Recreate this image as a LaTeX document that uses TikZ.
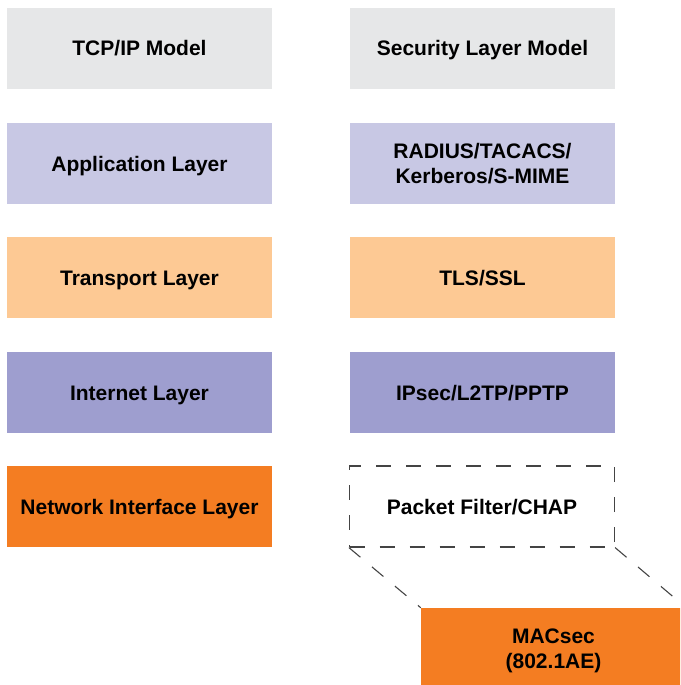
\documentclass[tikz,border=0pt]{standalone}
\usepackage{fontspec}
\setmainfont{Liberation Sans}
\definecolor{cgray}{HTML}{E6E7E8}
\definecolor{clav}{HTML}{C8C8E4}
\definecolor{cpeach}{HTML}{FDC994}
\definecolor{cpurple}{HTML}{9E9ECF}
\definecolor{corange}{HTML}{F47D22}
\definecolor{cdash}{HTML}{444444}
\begin{document}
\begin{tikzpicture}[x=1pt,y=-1pt,
  layerbox/.style={rectangle, minimum width=265pt, minimum height=81pt, inner sep=0pt,
    font=\fontsize{21}{25}\selectfont\bfseries, align=center, text=black,
    text height=15pt, text depth=0pt},
  twoline/.style={text height=40pt, text depth=0pt},
  dashbox/.style={layerbox, draw=cdash, line width=1.2pt, dash pattern=on 15pt off 15pt},
  dashlink/.style={draw=cdash, line width=1.1pt, dash pattern=on 15pt off 15pt}]
\useasboundingbox (0,0) rectangle (680,685);
\clip (0,0) rectangle (680,685);
\node[layerbox, fill=cgray] (tcp) at (139.5,48.5) {TCP/IP Model};
\node[layerbox, fill=clav] (app) at (139.5,163.5) {Application Layer};
\node[layerbox, fill=cpeach] (trans) at (139.5,277.5) {Transport Layer};
\node[layerbox, fill=cpurple] (inet) at (139.5,392.5) {Internet Layer};
\node[layerbox, fill=corange] (nil) at (139.5,506.5) {Network Interface Layer};
\node[layerbox, fill=cgray] (sec) at (482.5,48.5) {Security Layer Model};
\node[layerbox, twoline, fill=clav] (radius) at (482.5,163.5) {RADIUS/TACACS/\\Kerberos/S-MIME};
\node[layerbox, fill=cpeach] (tls) at (482.5,277.5) {TLS/SSL};
\node[layerbox, fill=cpurple] (ipsec) at (482.5,392.5) {IPsec/L2TP/PPTP};
\node[dashbox] (pf) at (482,506.5) {Packet Filter/CHAP};
\node[layerbox, twoline, fill=corange] (mac) at (553.5,648.5) {MACsec\\(802.1AE)};
\draw[dashlink] (pf.south west) -- (mac.north west);
\draw[dashlink] (pf.south east) -- (mac.north east);
\end{tikzpicture}
\end{document}
